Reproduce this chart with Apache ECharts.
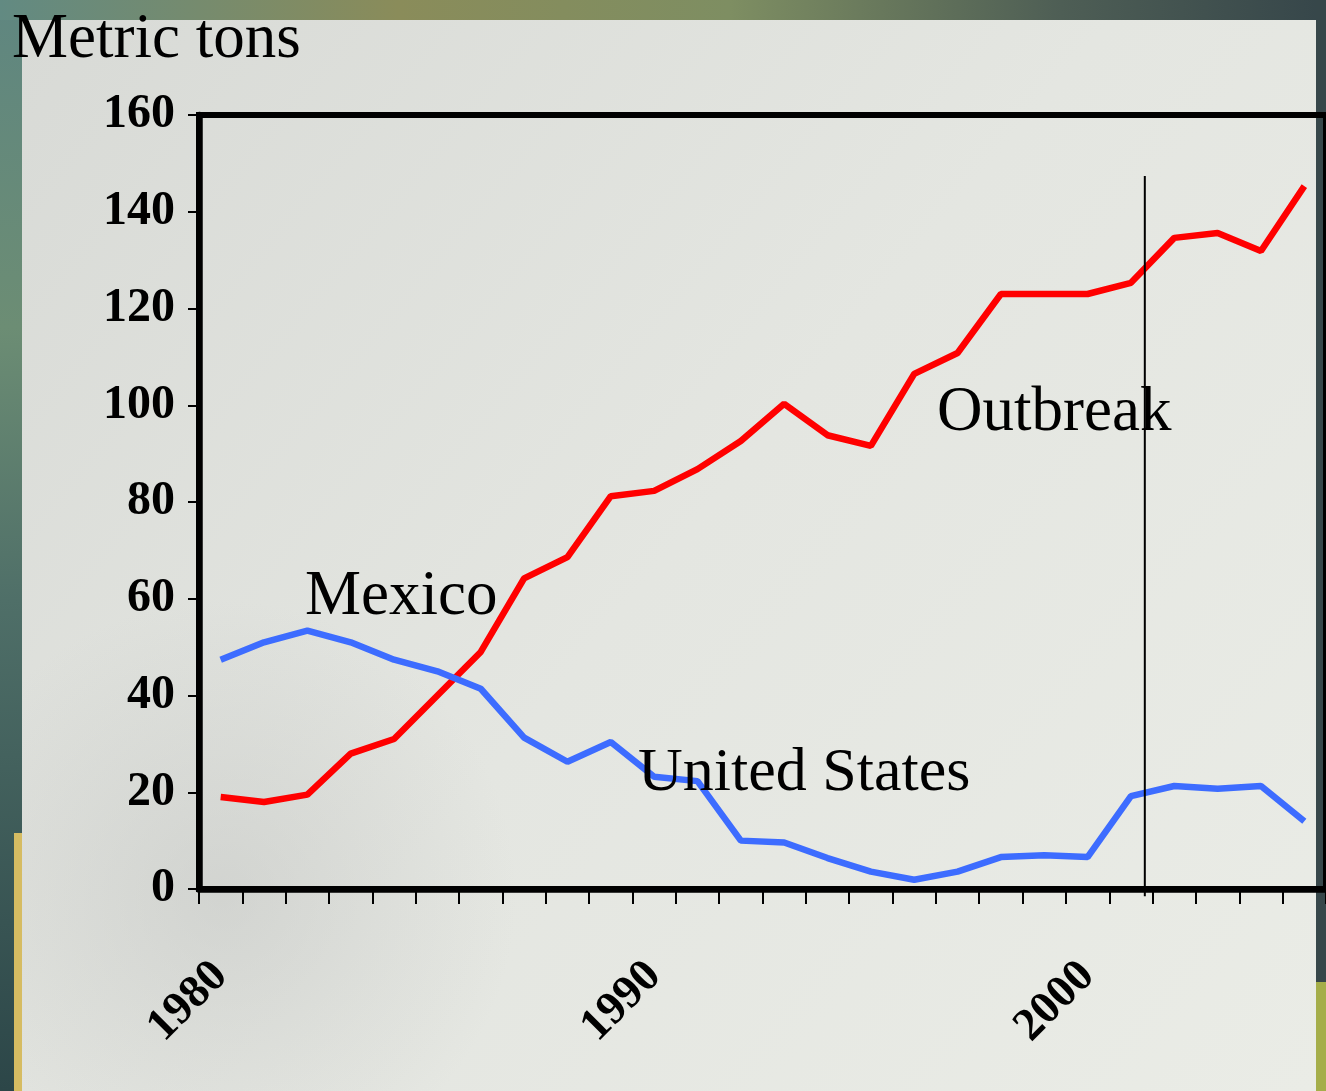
<!DOCTYPE html>
<html>
<head>
<meta charset="utf-8">
<script src="https://cdn.jsdelivr.net/npm/echarts@6/dist/echarts.min.js"></script>
<style>
  html, body { margin: 0; padding: 0; background: #2f4a4b; }
  #chart { width: 1326px; height: 1091px; }
</style>
</head>
<body>
<div id="chart"></div>
<script>
// ---- data ----
const years = ['1980','1981','1982','1983','1984','1985','1986','1987','1988','1989',
               '1990','1991','1992','1993','1994','1995','1996','1997','1998','1999',
               '2000','2001','2002','2003','2004','2005'];
const mexico = [19, 18, 19.5, 28, 31, 40, 49, 64.2, 68.6, 81.2,
                82.3, 86.8, 92.6, 100.3, 93.8, 91.6, 106.5, 110.8, 123, 123,
                123, 125.3, 134.6, 135.6, 131.9, 145.3];
const unitedStates = [47.4, 51, 53.4, 51, 47.4, 45, 41.4, 31.3, 26.3, 30.4,
                      23.2, 22.3, 10, 9.6, 6.4, 3.6, 1.9, 3.6, 6.6, 7,
                      6.6, 19.2, 21.3, 20.7, 21.3, 14];
const yTicks = [0, 20, 40, 60, 80, 100, 120, 140, 160];
const xLabelYears = ['1980', '1990', '2000'];
const outbreakYear = 2001.32;
const outbreakRange = [-1.5, 147.4];
const yTitle = 'Metric tons';
const seriesLabels = { mexico: 'Mexico', us: 'United States', outbreak: 'Outbreak' };

// ---- chart ----
const chart = echarts.init(document.getElementById('chart'), null, { renderer: 'canvas' });
const serif = '"Liberation Serif", "Times New Roman", serif';

const option = {
  animation: false,
  backgroundColor: 'transparent',
  grid: {
    left: 199, top: 115, width: 1131, height: 774,
    show: true, borderColor: '#000', borderWidth: 6, backgroundColor: 'transparent',
    containLabel: false
  },
  xAxis: [{
    type: 'category',
    data: years,
    boundaryGap: true,
    axisLine: { lineStyle: { color: '#000', width: 6.5 } },
    axisTick: { show: true, alignWithLabel: false, interval: 0, length: 15, lineStyle: { color: '#000', width: 2 } },
    axisLabel: {
      interval: 0,
      formatter: v => xLabelYears.indexOf(v) >= 0 ? v : '',
      rotate: 45,
      margin: 80,
      color: '#000',
      fontFamily: serif,
      fontWeight: 'bold',
      fontSize: 46
    },
    splitLine: { show: false }
  }, {
    type: 'value',
    min: 1979.5, max: 2005.5,
    show: false
  }],
  yAxis: {
    type: 'value',
    min: yTicks[0], max: yTicks[yTicks.length - 1], interval: 20,
    axisLine: { show: true, lineStyle: { color: '#000', width: 6.5 } },
    axisTick: { show: true, length: 11, lineStyle: { color: '#000', width: 2 } },
    axisLabel: {
      margin: 24,
      color: '#000',
      fontFamily: serif,
      fontWeight: 'bold',
      fontSize: 48
    },
    splitLine: { show: false }
  },
  series: [{
    name: seriesLabels.mexico,
    type: 'line',
    data: mexico,
    symbol: 'none',
    lineStyle: { color: '#ff0000', width: 6.5 },
    z: 3
  }, {
    name: seriesLabels.us,
    type: 'line',
    data: unitedStates,
    symbol: 'none',
    lineStyle: { color: '#3d6cff', width: 6.5 },
    z: 3
  }, {
    name: seriesLabels.outbreak,
    type: 'line',
    xAxisIndex: 1,
    data: [[outbreakYear, outbreakRange[0]], [outbreakYear, outbreakRange[1]]],
    symbol: 'none',
    clip: false,
    lineStyle: { color: '#000', width: 2 },
    z: 4
  }],
  graphic: [
    // frame
    { type: 'rect', z: -10, silent: true, shape: { x: 0, y: 0, width: 1326, height: 1091 },
      style: { fill: new echarts.graphic.LinearGradient(0, 0, 0, 1, [
        { offset: 0, color: '#5f8680' }, { offset: 0.3, color: '#6c8d74' },
        { offset: 0.55, color: '#4f6f68' }, { offset: 1, color: '#2c4648' }]) } },
    { type: 'rect', z: -9, silent: true, shape: { x: 0, y: 0, width: 1326, height: 20 },
      style: { fill: new echarts.graphic.LinearGradient(0, 0, 1, 0, [
        { offset: 0, color: '#628a82' }, { offset: 0.3, color: '#8a8c5a' },
        { offset: 0.55, color: '#7e8e62' }, { offset: 0.8, color: '#4e5e55' }, { offset: 1, color: '#36464a' }]) } },
    // panel
    { type: 'rect', z: -8, silent: true, shape: { x: 22, y: 20, width: 1294, height: 1071 },
      style: { fill: new echarts.graphic.LinearGradient(0, 0, 1, 1, [
        { offset: 0, color: '#d8dad6' }, { offset: 0.5, color: '#e4e6e1' }, { offset: 1, color: '#eaece6' }]) } },
    { type: 'rect', z: -7, silent: true, shape: { x: 22, y: 600, width: 500, height: 491 },
      style: { fill: new echarts.graphic.RadialGradient(0.4, 0.6, 0.6, [
        { offset: 0, color: 'rgba(190,192,190,0.45)' }, { offset: 1, color: 'rgba(190,192,190,0)' }]) } },
    // right strip
    { type: 'rect', z: -8, silent: true, shape: { x: 1316, y: 0, width: 10, height: 982 }, style: { fill: '#37474a' } },
    { type: 'rect', z: -8, silent: true, shape: { x: 1316, y: 982, width: 10, height: 109 }, style: { fill: '#a5ae4a' } },
    // yellow bar
    { type: 'rect', z: -7, silent: true, shape: { x: 14, y: 833, width: 8, height: 258 }, style: { fill: '#d6bc62' } },
    // texts
    { type: 'text', z: 10, left: 12, top: 9, style: { text: yTitle, font: '63px ' + serif, fill: '#000' } },
    { type: 'text', z: 10, x: 305, y: 597, style: { text: seriesLabels.mexico, font: '63px ' + serif, fill: '#000', verticalAlign: 'middle' } },
    { type: 'text', z: 10, x: 937, y: 413, style: { text: seriesLabels.outbreak, font: '63px ' + serif, fill: '#000', verticalAlign: 'middle' } },
    { type: 'text', z: 10, x: 638, y: 774, style: { text: seriesLabels.us, font: '62px ' + serif, fill: '#000', verticalAlign: 'middle' } }
  ]
};
chart.setOption(option);
</script>
</body>
</html>
